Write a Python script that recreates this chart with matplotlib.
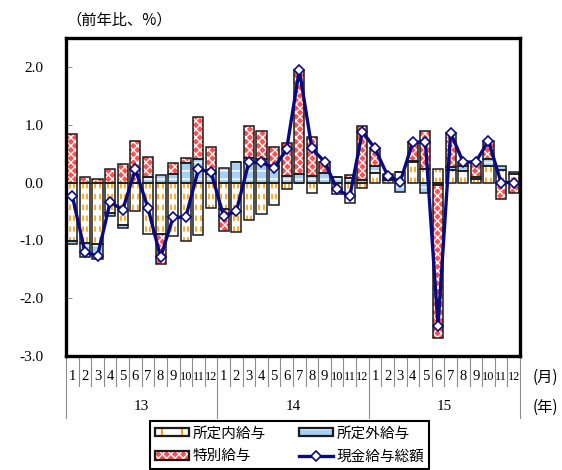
import numpy as np
import matplotlib
matplotlib.use("Agg")
import matplotlib.pyplot as plt
from matplotlib.patches import Rectangle
from matplotlib.lines import Line2D
from matplotlib.legend_handler import HandlerBase
from matplotlib.transforms import blended_transform_factory

# ---- data: year-on-year change (%) by month, 2013-2015 ----
years = ["13", "14", "15"]
months = [str(m) for m in range(1, 13)]

# 所定内給与 (scheduled earnings)
scheduled = [-1.01, -1.04, -1.07, -0.53, -0.74, -0.49, -0.89, -0.89, -0.92, -1.01, -0.90, -0.44,
             -0.46, -0.85, -0.64, -0.55, -0.38, -0.12, 0.00, -0.18, 0.00, -0.20, -0.36, -0.09,
             0.17, 0.05, 0.18, 0.35, 0.23, 0.23, 0.21, 0.20, 0.06, 0.29, 0.22, 0.15]
# 所定外給与 (non-scheduled earnings)
overtime = [-0.06, -0.24, -0.26, -0.05, -0.05, 0.00, 0.09, 0.13, 0.14, 0.33, 0.40, 0.15,
            0.26, 0.35, 0.43, 0.40, 0.29, 0.12, 0.14, 0.11, 0.17, 0.09, 0.08, 0.05,
            0.12, 0.02, -0.17, 0.02, -0.18, -0.05, 0.06, 0.09, 0.03, 0.11, 0.07, 0.03]
# 特別給与 (special earnings)
special = [0.84, 0.09, 0.06, 0.23, 0.32, 0.72, 0.36, -0.52, 0.19, 0.09, 0.73, 0.47,
           -0.38, 0.00, 0.55, 0.50, 0.32, 0.57, 1.81, 0.67, 0.19, 0.00, 0.05, 0.93,
           0.30, 0.07, 0.00, 0.33, 0.67, -2.64, 0.59, 0.04, 0.26, 0.32, -0.29, -0.18]
# 現金給与総額 (total cash earnings)
total = [-0.23, -1.20, -1.27, -0.34, -0.47, 0.23, -0.44, -1.29, -0.60, -0.60, 0.23, 0.18,
         -0.58, -0.50, 0.35, 0.35, 0.25, 0.58, 1.95, 0.59, 0.36, -0.12, -0.24, 0.88,
         0.59, 0.12, 0.01, 0.70, 0.70, -2.48, 0.86, 0.35, 0.36, 0.72, 0.00, 0.00]

series_labels = ["所定内給与", "所定外給与", "特別給与", "現金給与総額"]
yticks = [-3.0, -2.0, -1.0, 0.0, 1.0, 2.0]
y_title = "（前年比、%）"
month_unit = "(月)"
year_unit = "(年)"

# ---- style ----
plt.rcParams["axes.unicode_minus"] = False
SERIF = ["Liberation Serif", "Noto Sans CJK JP"]
JP = ["Noto Sans CJK JP", "DejaVu Sans"]
EDGE = "#1a1a1a"
ORANGE = "#ffa21a"
BLUE = "#a9cff3"
RED = "#ff4f4f"
NAVY = "#0a0a80"
BAR_W = 0.8

n = len(total)
x = np.arange(n)

fig = plt.figure(figsize=(5.62, 4.70), dpi=100)
ax = fig.add_axes([66 / 562, 1 - 356 / 470, 454 / 562, 318 / 470])

# stacked bars: positives stack upward, negatives downward
comps = [np.array(scheduled), np.array(overtime), np.array(special)]
pos_base = np.zeros(n)
neg_base = np.zeros(n)
bottoms = []
for v in comps:
    bottoms.append(np.where(v >= 0, pos_base, neg_base))
    pos_base = pos_base + np.clip(v, 0, None)
    neg_base = neg_base + np.clip(v, None, 0)

plt.rcParams["hatch.linewidth"] = 1.0
# fills
ax.bar(x, comps[0], bottom=bottoms[0], width=BAR_W, color="white", lw=0, zorder=2)
ax.bar(x, comps[1], bottom=bottoms[1], width=BAR_W, color=BLUE, edgecolor="white",
       hatch="--", lw=0, zorder=2)
ax.bar(x, comps[2], bottom=bottoms[2], width=BAR_W, color=RED, edgecolor="white",
       hatch="xxxx", lw=0, zorder=2)

# orange dashed strokes inside the scheduled-earnings segments
for i in range(n):
    v, b = comps[0][i], bottoms[0][i]
    if abs(v) < 0.03:
        continue
    for k, dx in enumerate((-0.17, 0.17)):
        ax.add_line(Line2D([x[i] + dx, x[i] + dx], [b, b + v], color=ORANGE, lw=1.3,
                           dashes=(3, 3), dash_capstyle="butt", zorder=2.1))

# outlines
for v, b in zip(comps, bottoms):
    ax.bar(x, v, bottom=b, width=BAR_W, fill=False, edgecolor=EDGE, lw=1.1, zorder=2.2)

# total cash earnings line
ax.plot(x, total, color=NAVY, lw=2.4, marker="D", ms=5.5, mfc="white", mec=NAVY,
        mew=1.2, zorder=3)

ax.set_xlim(-0.5, n - 0.5)
ax.set_ylim(-3.0, 2.5)
ax.set_yticks(yticks)
ax.set_yticklabels([f"{t:.1f}" for t in yticks], family=SERIF, fontsize=11)
ax.tick_params(axis="y", direction="in", length=4, width=0.8, color="#999999", pad=16)
ax.set_xticks([])
for s in ax.spines.values():
    s.set_linewidth(2.4)
    s.set_color("black")

# month / year labels under the axis
trans = blended_transform_factory(ax.transData, ax.transAxes)
for i in range(n + 1):
    is_year = i % 12 == 0
    ax.add_line(Line2D([i - 0.5, i - 0.5], [0, -0.195 if is_year else -0.094],
                       transform=trans, color="#8c8c8c", lw=0.8, clip_on=False))
for i in range(n):
    lab = months[i % 12]
    ax.text(x[i], -0.066, lab, transform=trans, ha="center", va="center",
            family=SERIF, fontsize=10.5 if len(lab) == 1 else 8.8)
for j, yr in enumerate(years):
    ax.text(12 * j + 5.5, -0.160, yr, transform=trans, ha="center", va="center",
            family=SERIF, fontsize=11)

fig.text(545 / 562, 1 - 377 / 470, month_unit, ha="center", va="center", family=JP, fontsize=11)
fig.text(545 / 562, 1 - 407 / 470, year_unit, ha="center", va="center", family=JP, fontsize=11)
fig.text(66 / 562, 1 - 20 / 470, y_title, ha="left", va="center", family=JP, fontsize=11)


# legend with custom swatches
class SwatchHandler(HandlerBase):
    def __init__(self, face, hatch=None, dashes=False):
        super().__init__()
        self.face, self.hatch, self.dashes = face, hatch, dashes

    def create_artists(self, legend, orig_handle, xdescent, ydescent, width, height,
                       fontsize, trans):
        x0, y0 = -xdescent, -ydescent
        arts = [Rectangle((x0, y0), width, height, facecolor=self.face,
                          edgecolor="white", hatch=self.hatch, lw=0, transform=trans)]
        if self.dashes:
            for fx in (0.2, 0.8):
                arts.append(Line2D([x0 + fx * width] * 2, [y0, y0 + height], color=ORANGE,
                                   lw=1.6, transform=trans))
        arts.append(Rectangle((x0, y0), width, height, fill=False, edgecolor=EDGE,
                              lw=1.6, transform=trans))
        return arts


h0 = Rectangle((0, 0), 1, 1)
h1 = Rectangle((0, 0), 1, 1)
h2 = Rectangle((0, 0), 1, 1)
h3 = Line2D([], [], color=NAVY, lw=2.4, marker="D", ms=5.5, mfc="white", mec=NAVY, mew=1.2)
leg = fig.legend([h0, h2, h1, h3], [series_labels[0], series_labels[2], series_labels[1],
                                    series_labels[3]],
                 handler_map={h0: SwatchHandler("white", dashes=True),
                              h1: SwatchHandler(BLUE, hatch="--"),
                              h2: SwatchHandler(RED, hatch="xxxx")},
                 loc="upper left", bbox_to_anchor=(150 / 562, 1 - 421 / 470), ncol=2,
                 prop={"family": JP, "size": 10.5}, frameon=True, fancybox=False,
                 edgecolor="black", framealpha=1, borderaxespad=0, handlelength=2.3,
                 handleheight=0.55, handletextpad=0.25, columnspacing=2.3,
                 labelspacing=0.62, borderpad=0.36)
leg.get_frame().set_linewidth(1.5)

fig.savefig("out.png", dpi=100)
